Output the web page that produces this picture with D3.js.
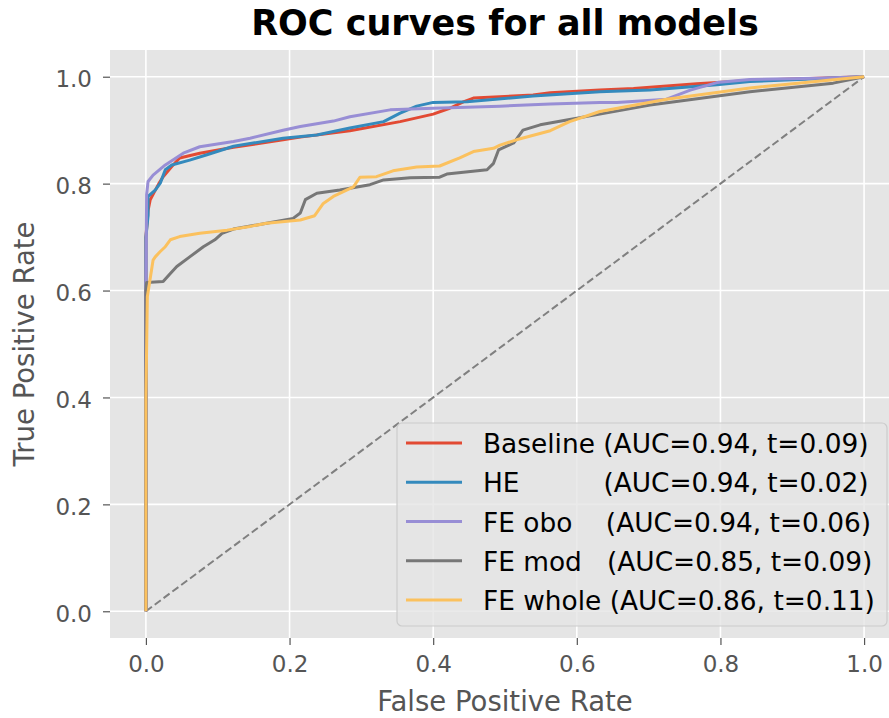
<!DOCTYPE html>
<html>
<head>
<meta charset="utf-8">
<script src="https://cdn.jsdelivr.net/npm/d3@7"></script>
<style>
  body { margin: 0; background: #fff; }
  svg { display: block; font-family: "DejaVu Sans", sans-serif; }
</style>
</head>
<body>
<div id="chart"></div>
<script>
    // ROC points (false positive rate / true positive rate)
    var baselineFpr = [0, 0, 0.003, 0.006, 0.012, 0.018, 0.024, 0.036, 0.047, 0.075, 0.122, 0.191, 0.215, 0.284, 0.354, 0.400, 0.423, 0.442, 0.456, 0.539, 0.563, 0.632, 0.679, 0.767, 0.841, 1];
    var baselineTpr = [0, 0.70, 0.75, 0.77, 0.785, 0.80, 0.813, 0.832, 0.848, 0.857, 0.868, 0.882, 0.887, 0.899, 0.916, 0.930, 0.941, 0.953, 0.960, 0.966, 0.970, 0.975, 0.978, 0.987, 0.993, 1];

    var heFpr = [0, 0, 0.003, 0.003, 0.013, 0.020, 0.027, 0.036, 0.061, 0.085, 0.122, 0.191, 0.238, 0.284, 0.331, 0.354, 0.377, 0.400, 0.447, 0.539, 0.632, 0.702, 0.795, 0.841, 1];
    var heTpr = [0, 0.70, 0.74, 0.776, 0.788, 0.801, 0.826, 0.835, 0.844, 0.854, 0.870, 0.885, 0.891, 0.904, 0.916, 0.932, 0.945, 0.952, 0.953, 0.964, 0.972, 0.975, 0.985, 0.991, 1];

    var oboFpr = [0, 0, 0.001, 0.003, 0.010, 0.027, 0.052, 0.075, 0.122, 0.145, 0.191, 0.215, 0.261, 0.284, 0.340, 0.400, 0.493, 0.563, 0.632, 0.656, 0.725, 0.758, 0.795, 0.841, 0.934, 1];
    var oboTpr = [0, 0.60, 0.78, 0.804, 0.816, 0.835, 0.857, 0.869, 0.879, 0.885, 0.900, 0.907, 0.917, 0.925, 0.938, 0.941, 0.945, 0.949, 0.952, 0.952, 0.958, 0.975, 0.989, 0.995, 0.997, 1];

    var modFpr = [0, 0, 0.001, 0.024, 0.034, 0.043, 0.061, 0.080, 0.096, 0.106, 0.122, 0.168, 0.205, 0.215, 0.222, 0.238, 0.270, 0.312, 0.331, 0.368, 0.409, 0.419, 0.475, 0.484, 0.491, 0.512, 0.525, 0.549, 0.586, 0.632, 0.702, 0.841, 0.957, 1];
    var modTpr = [0, 0.60, 0.615, 0.617, 0.632, 0.645, 0.663, 0.682, 0.695, 0.707, 0.715, 0.726, 0.735, 0.745, 0.770, 0.782, 0.788, 0.798, 0.807, 0.811, 0.812, 0.818, 0.826, 0.838, 0.863, 0.876, 0.900, 0.910, 0.919, 0.930, 0.947, 0.972, 0.988, 1];

    var wholeFpr = [0, 0, 0.002, 0.005, 0.010, 0.013, 0.020, 0.027, 0.034, 0.047, 0.075, 0.113, 0.145, 0.168, 0.215, 0.235, 0.247, 0.261, 0.289, 0.298, 0.321, 0.344, 0.377, 0.409, 0.437, 0.456, 0.484, 0.493, 0.516, 0.563, 0.590, 0.632, 0.725, 0.841, 1];
    var wholeTpr = [0, 0.40, 0.589, 0.614, 0.657, 0.663, 0.673, 0.682, 0.695, 0.701, 0.707, 0.713, 0.720, 0.726, 0.732, 0.740, 0.763, 0.776, 0.794, 0.812, 0.813, 0.824, 0.831, 0.833, 0.848, 0.860, 0.866, 0.872, 0.882, 0.899, 0.916, 0.935, 0.958, 0.979, 1];

    var seriesNames = ["Baseline", "HE", "FE obo", "FE mod", "FE whole"];
    var legendLabels = [
      "Baseline (AUC=0.94, t=0.09)",
      "HE          (AUC=0.94, t=0.02)",
      "FE obo    (AUC=0.94, t=0.06)",
      "FE mod   (AUC=0.85, t=0.09)",
      "FE whole (AUC=0.86, t=0.11)"
    ];
    var colors = ["#E24A33", "#348ABD", "#988ED5", "#777777", "#FBC15E"];
    var tickValues = [0, 0.2, 0.4, 0.6, 0.8, 1.0];

    var series = [
      {fpr: baselineFpr, tpr: baselineTpr},
      {fpr: heFpr, tpr: heTpr},
      {fpr: oboFpr, tpr: oboTpr},
      {fpr: modFpr, tpr: modTpr},
      {fpr: wholeFpr, tpr: wholeTpr}
    ];

    var width = 889, height = 718;
    var plot = {left: 110, right: 900, top: 50, bottom: 638};

    var svg = d3.select("#chart").append("svg")
        .attr("width", width)
        .attr("height", height);

    var x = d3.scaleLinear().domain([-0.05, 1.05]).range([plot.left, plot.right]);
    var y = d3.scaleLinear().domain([-0.05, 1.05]).range([plot.bottom, plot.top]);

    // background
    svg.append("rect")
        .attr("x", plot.left).attr("y", plot.top)
        .attr("width", plot.right - plot.left)
        .attr("height", plot.bottom - plot.top)
        .attr("fill", "#E5E5E5");

    // grid
    var grid = svg.append("g").attr("class", "grid");
    grid.selectAll("line.vx").data(tickValues).enter().append("line")
        .attr("x1", d => x(d)).attr("x2", d => x(d))
        .attr("y1", plot.top).attr("y2", plot.bottom)
        .attr("stroke", "#fff").attr("stroke-width", 1.6);
    grid.selectAll("line.hy").data(tickValues).enter().append("line")
        .attr("y1", d => y(d)).attr("y2", d => y(d))
        .attr("x1", plot.left).attr("x2", plot.right)
        .attr("stroke", "#fff").attr("stroke-width", 1.6);

    // axes
    var fmt = d3.format(".1f");
    var xAxis = svg.append("g")
        .attr("transform", "translate(0," + plot.bottom + ")")
        .call(d3.axisBottom(x).tickValues(tickValues).tickFormat(fmt).tickSize(7).tickPadding(11));
    var yAxis = svg.append("g")
        .attr("transform", "translate(" + plot.left + ",0)")
        .call(d3.axisLeft(y).tickValues(tickValues).tickFormat(fmt).tickSize(7).tickPadding(11));

    [xAxis, yAxis].forEach(function(a) {
      a.select(".domain").remove();
      a.selectAll(".tick line").attr("stroke", "#555").attr("stroke-width", 1.2);
      a.selectAll(".tick text")
          .attr("fill", "#555")
          .style("font-size", "23px")
          .style("font-family", "DejaVu Sans");
    });
    yAxis.selectAll(".tick text").attr("dy", "0.43em");

    // chance diagonal
    svg.append("clipPath").attr("id", "plotclip").append("rect")
        .attr("x", plot.left).attr("y", plot.top)
        .attr("width", plot.right - plot.left)
        .attr("height", plot.bottom - plot.top);
    var curves = svg.append("g").attr("clip-path", "url(#plotclip)");

    curves.append("line")
        .attr("x1", x(0)).attr("y1", y(0))
        .attr("x2", x(1)).attr("y2", y(1))
        .attr("stroke", "#808080")
        .attr("stroke-width", 2)
        .attr("stroke-dasharray", "7.5,3.5");

    var line = d3.line()
        .x(d => x(d[0]))
        .y(d => y(d[1]));

    curves.selectAll("path.roc").data(series).enter().append("path")
        .attr("class", "roc")
        .attr("d", d => line(d.fpr.map((f, i) => [f, d.tpr[i]])))
        .attr("fill", "none")
        .attr("stroke", (d, i) => colors[i])
        .attr("stroke-width", 3)
        .attr("stroke-linejoin", "round");

    // legend
    var legend = svg.append("g").attr("class", "legend");
    legend.append("rect")
        .attr("x", 397).attr("y", 423)
        .attr("width", 490).attr("height", 203)
        .attr("rx", 5).attr("ry", 5)
        .attr("fill", "#E5E5E5").attr("fill-opacity", 0.8)
        .attr("stroke", "#cccccc").attr("stroke-width", 1.2);

    var rows = legend.selectAll("g.row").data(legendLabels).enter().append("g")
        .attr("transform", (d, i) => "translate(0," + (443 + i * 39.25) + ")");
    rows.append("line")
        .attr("x1", 406).attr("x2", 462)
        .attr("stroke", (d, i) => colors[i])
        .attr("stroke-width", 3);
    rows.append("text")
        .attr("x", 483).attr("y", 10)
        .attr("xml:space", "preserve")
        .style("white-space", "pre")
        .style("font-size", "26.4px")
        .attr("fill", "#000")
        .text(d => d);

    // title and axis labels
    svg.append("text")
        .attr("x", (plot.left + plot.right) / 2).attr("y", 35)
        .attr("text-anchor", "middle")
        .style("font-size", "35px").style("font-weight", "bold")
        .text("ROC curves for all models");

    svg.append("text")
        .attr("x", (plot.left + plot.right) / 2).attr("y", 711)
        .attr("text-anchor", "middle")
        .attr("fill", "#555")
        .style("font-size", "27.5px")
        .text("False Positive Rate");

    svg.append("text")
        .attr("transform", "translate(34," + (plot.top + plot.bottom) / 2 + ") rotate(-90)")
        .attr("text-anchor", "middle")
        .attr("fill", "#555")
        .style("font-size", "27.5px")
        .text("True Positive Rate");
</script>
</body>
</html>
